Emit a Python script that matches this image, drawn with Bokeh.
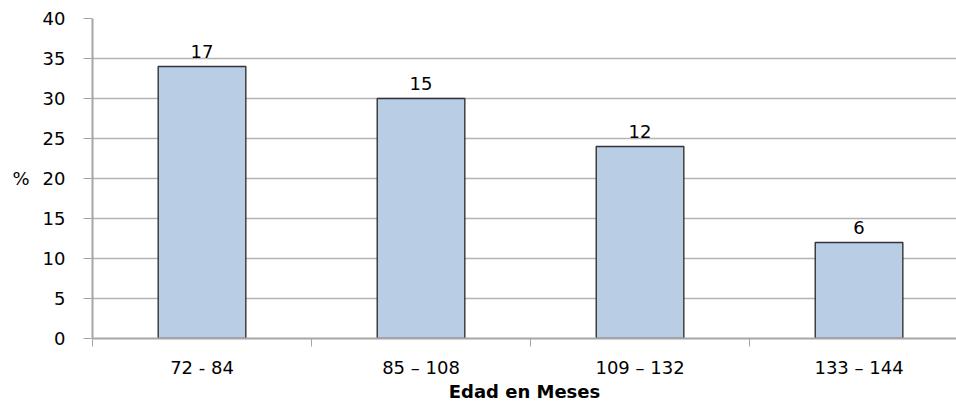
from bokeh.plotting import figure
from bokeh.models import Range1d, FixedTicker, ColumnDataSource, LabelSet
from bokeh.core.properties import value
from bokeh.embed import file_html
from bokeh.resources import INLINE

categories = ["72 - 84", "85 \u2013 108", "109 \u2013 132", "133 \u2013 144"]
percent = [34, 30, 24, 12]
counts = [17, 15, 12, 6]
y_ticks = [0, 5, 10, 15, 20, 25, 30, 35, 40]

xs = [i + 0.5 for i in range(len(categories))]
src = ColumnDataSource(dict(x=xs, top=percent, lab=[str(c) for c in counts]))

p = figure(width=956, height=404, output_backend="svg", toolbar_location=None,
           x_range=Range1d(0, 3.945), y_range=Range1d(0, 40),
           min_border_left=92, min_border_right=0, min_border_top=18, min_border_bottom=0)
p.outline_line_color = None
p.background_fill_color = "white"

p.vbar(x="x", top="top", width=0.4, source=src, fill_color="#b9cde5",
       line_color="#333333", line_width=1.4)

labels = LabelSet(x="x", y="top", text="lab", source=src, text_align="center",
                  text_baseline="bottom", y_offset=9, text_font=value("DejaVu Sans"),
                  text_font_size="18px", text_color="#000000")
p.add_layout(labels)

# y axis
p.yaxis.ticker = FixedTicker(ticks=y_ticks)
p.yaxis.minor_tick_line_color = None
p.yaxis.major_tick_in = 0
p.yaxis.major_tick_out = 9
p.yaxis.major_tick_line_color = "#a6a6a6"
p.yaxis.axis_line_color = "#a6a6a6"
p.yaxis.axis_line_width = 2
p.yaxis.major_label_text_font = "DejaVu Sans"
p.yaxis.major_label_text_font_size = "18px"
p.yaxis.major_label_text_color = "#000000"
p.yaxis.major_label_standoff = 18
p.yaxis.axis_label = "%"
p.yaxis.axis_label_orientation = "horizontal"
p.yaxis.axis_label_text_font = "DejaVu Sans"
p.yaxis.axis_label_text_font_style = "normal"
p.yaxis.axis_label_text_font_size = "18px"
p.yaxis.axis_label_text_color = "#000000"
p.yaxis.axis_label_standoff = 10

# x axis
p.xaxis.ticker = FixedTicker(ticks=xs, minor_ticks=[0, 1, 2, 3, 4])
p.xaxis.major_label_overrides = {x: c for x, c in zip(xs, categories)}
p.xaxis.major_tick_line_color = None
p.xaxis.major_tick_in = 0
p.xaxis.major_tick_out = 0
p.xaxis.minor_tick_in = 0
p.xaxis.minor_tick_out = 8
p.xaxis.minor_tick_line_color = "#a6a6a6"
p.xaxis.axis_line_color = "#a6a6a6"
p.xaxis.axis_line_width = 2
p.xaxis.major_label_text_font = "DejaVu Sans"
p.xaxis.major_label_text_font_size = "18px"
p.xaxis.major_label_text_color = "#000000"
p.xaxis.major_label_standoff = 10
p.xaxis.axis_label = "Edad en Meses"
p.xaxis.axis_label_text_font = "DejaVu Sans"
p.xaxis.axis_label_text_font_style = "bold"
p.xaxis.axis_label_text_font_size = "18px"
p.xaxis.axis_label_text_color = "#000000"
p.xaxis.axis_label_standoff = 0

p.xgrid.grid_line_color = None
p.ygrid.ticker = FixedTicker(ticks=y_ticks)
p.ygrid.grid_line_color = "#b3b3b3"
p.ygrid.grid_line_width = 1.5

open("out.html", "w").write(file_html(p, INLINE))
